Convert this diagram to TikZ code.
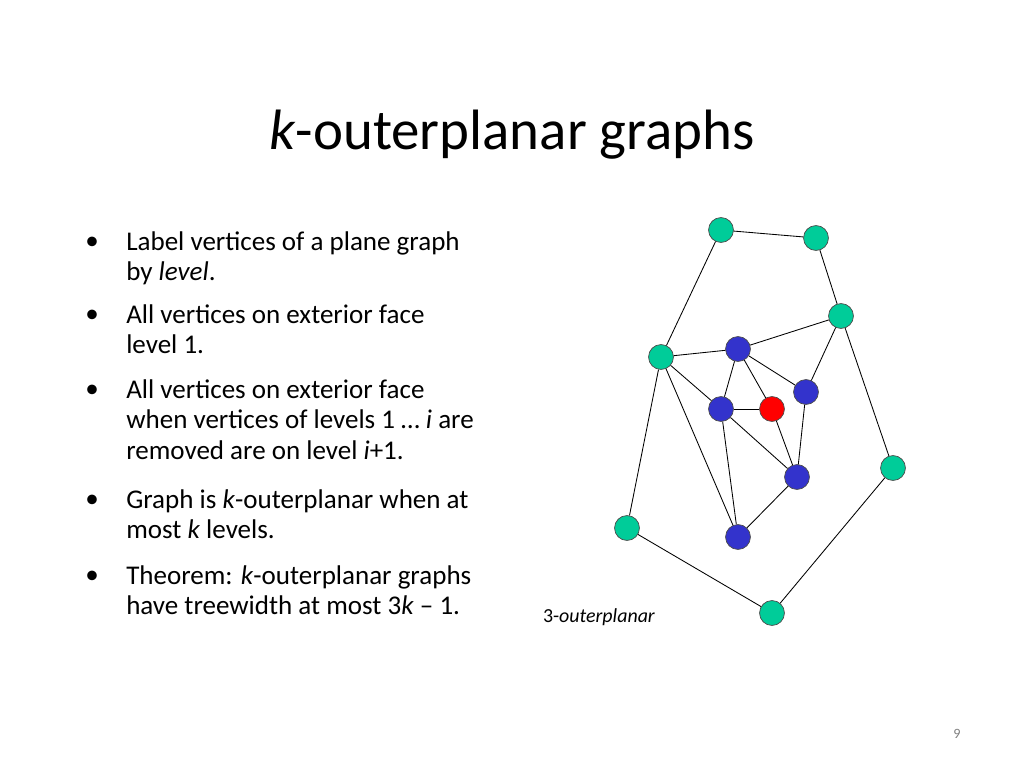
\documentclass[tikz,border=0pt]{standalone}
\usepackage{fontspec}
\setmainfont{Carlito}
\begin{document}
\begin{tikzpicture}[x=0.703pt,y=-0.703pt,
 v/.style={circle,draw=black!70,line width=0.5pt,minimum size=17.5pt,inner sep=0pt},
 g/.style={v,fill={rgb,255:red,0;green,204;blue,153}},
 b/.style={v,fill={rgb,255:red,51;green,51;blue,204}},
 r/.style={v,fill=red},
 e/.style={draw,line width=0.6pt},
 body/.style={anchor=north west,align=left,font=\fontsize{19}{21.5}\selectfont,inner sep=0pt}]
\useasboundingbox (0,0) rectangle (1024,768);
\node (title) at (512,135) {\fontsize{40}{48}\selectfont\textit{k}-outerplanar graphs};
\node[body] (t1) at (126,231) {Label vertices of a plane graph\\by \textit{level}.};
\node[body] (t2) at (126,304) {All vertices on exterior face\\level 1.};
\node[body] (t3) at (126,379) {All vertices on exterior face\\when vertices of levels 1 \dots\ \textit{i} are\\removed are on level \textit{i}+1.};
\node[body] (t4) at (126,489) {Graph is \textit{k}-outerplanar when at\\most \textit{k} levels.};
\node[body] (t5) at (126,565) {Theorem: \textit{k}-outerplanar graphs\\have treewidth at most 3\textit{k} -- 1.};
\foreach \yy/\n in {243/1,316/2,391/3,501/4,577/5}
  \node[font=\fontsize{19}{21}\selectfont] (bul\n) at (92,\yy) {•};
\node[anchor=west,font=\fontsize{14}{17}\selectfont] (lab) at (538,617) {3-\textit{outerplanar}};
\node[font=\fontsize{10}{12}\selectfont,text=gray] (pg) at (957,734) {9};
\node[g] (A) at (721,230) {};
\node[g] (B) at (816,238) {};
\node[g] (C) at (841,316) {};
\node[g] (D) at (661,357) {};
\node[b] (E) at (738,349) {};
\node[b] (F) at (806,392) {};
\node[b] (G) at (721,409) {};
\node[r] (H) at (772,409) {};
\node[g] (I) at (893,468) {};
\node[b] (J) at (797,477) {};
\node[g] (K) at (627,528) {};
\node[b] (L) at (738,537) {};
\node[g] (M) at (772,613) {};
\foreach \a/\bb in {A/B,B/C,A/D,C/E,C/F,C/I,D/E,D/G,D/L,D/K,E/G,E/H,E/F,F/J,H/J,G/H,G/J,G/L,L/J,I/M,K/M}
  \path[e] (\a) -- (\bb);
\end{tikzpicture}
\end{document}
